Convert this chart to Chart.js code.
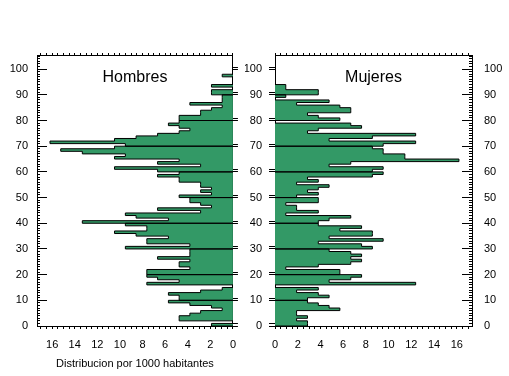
<!DOCTYPE html>
<html>
<head>
<meta charset="utf-8">
<script src="https://cdn.jsdelivr.net/npm/chart.js@4.4.1/dist/chart.umd.min.js"></script>
<style>
  body { margin: 0; background: #fff; }
  #wrap { position: relative; width: 509px; height: 376px; }
  .box { position: absolute; top: 0; height: 376px; }
</style>
</head>
<body>
<div id="wrap">
  <div class="box" style="left:0;width:245px"><canvas id="hombresChart"></canvas></div>
  <div class="box" style="left:245px;width:264px"><canvas id="mujeresChart"></canvas></div>
</div>
<script>
// valores por edad (0, 1, 2, ...), distribucion por 1000 habitantes
const hombres = [
  1.90, 0, 4.76, 4.76, 3.81, 2.86, 0.95, 1.90, 3.81, 5.71,
  4.76, 4.76, 5.71, 2.86, 0.95, 0, 7.62, 4.76, 6.67, 7.62,
  7.62, 7.62, 3.81, 4.76, 4.76, 3.81, 6.67, 3.81, 3.81, 3.81,
  9.52, 3.81, 7.62, 7.62, 5.71, 8.57, 10.48, 7.62, 7.62, 9.52,
  13.33, 5.71, 8.57, 9.52, 2.86, 6.67, 1.90, 2.86, 3.81, 3.81,
  4.76, 1.90, 2.86, 1.90, 2.86, 2.86, 4.76, 4.76, 6.67, 4.76,
  6.67, 10.48, 2.86, 6.67, 4.76, 10.48, 9.52, 13.33, 15.24, 10.48,
  9.52, 16.19, 10.48, 8.57, 6.67, 4.76, 3.81, 4.76, 5.71, 4.76,
  4.76, 4.76, 2.86, 2.86, 1.90, 0.95, 3.81, 0.95, 0.95, 0.95,
  1.90, 1.90, 0, 1.90, 0, 0, 0, 0.95
];
const mujeres = [
  2.86, 2.86, 1.90, 2.86, 1.90, 1.90, 5.71, 4.76, 3.81, 2.86,
  2.86, 4.76, 3.81, 1.90, 3.81, 0, 12.38, 4.76, 6.67, 7.62,
  5.71, 5.71, 0.95, 3.81, 6.67, 7.62, 6.67, 7.62, 6.67, 4.76,
  8.57, 7.62, 3.81, 9.52, 4.76, 8.57, 8.57, 5.71, 7.62, 3.81,
  3.81, 4.76, 6.67, 0.95, 3.81, 1.90, 1.90, 0.95, 3.81, 3.81,
  1.90, 3.81, 2.86, 3.81, 4.76, 1.90, 3.81, 2.86, 8.57, 9.52,
  8.57, 9.52, 4.76, 6.67, 16.19, 11.43, 11.43, 9.52, 9.52, 8.57,
  9.52, 12.38, 4.76, 8.57, 12.38, 2.86, 3.81, 7.62, 6.67, 0,
  5.71, 3.81, 2.86, 6.67, 6.67, 5.71, 1.90, 4.76, 0, 0.95,
  3.81, 3.81, 0.95, 0.95
];
const edadTicks = [0, 10, 20, 30, 40, 50, 60, 70, 80, 90, 100];
const distTicks = [0, 2, 4, 6, 8, 10, 12, 14, 16];
const xMax = 17.34;
const yMax = 105.5;
const verde = "rgb(51, 153, 102)";

Chart.defaults.font.family = "'Liberation Sans', Arial, sans-serif";
Chart.defaults.font.size = 11;
Chart.defaults.color = "#000";

// escalones: cada edad ocupa [edad, edad+1]; linea completa cada 10 anos
function stepPoints(values) {
  const pts = [{ x: 0, y: 0 }];
  values.forEach((v, edad) => {
    if (edad > 0 && edad % 10 === 0) pts.push({ x: 0, y: edad });
    pts.push({ x: v, y: edad });
  });
  pts.push({ x: 0, y: values.length });
  return pts;
}

const panelTitle = {
  id: "panelTitle",
  afterDraw(chart, args, opts) {
    const { ctx, chartArea } = chart;
    ctx.save();
    ctx.font = "16px 'Liberation Sans', Arial, sans-serif";
    ctx.fillStyle = "#000";
    ctx.textAlign = "center";
    ctx.fillText(opts.text, (chartArea.left + chartArea.right) / 2, chartArea.top + 27);
    ctx.restore();
  },
};

function xScale(reverse, position, withLabels) {
  const s = {
    type: "linear",
    position: position,
    reverse: reverse,
    min: 0,
    max: xMax,
    ticks: {
      display: withLabels,
      stepSize: 0.5,
      autoSkip: false,
      maxRotation: 0,
      includeBounds: false,
      padding: 9,
      callback: (v) => (distTicks.includes(v) ? v : ""),
    },
    grid: { drawOnChartArea: false, tickLength: position === "top" ? 2 : 3, color: "#000" },
    border: { color: "#000" },
    afterFit: (scale) => {
      scale.height = position === "top" ? 2 : 50;
    },
  };
  return s;
}

function yScale(position, weight, opts) {
  const s = {
    type: "linear",
    position: position,
    weight: weight,
    min: 0,
    max: yMax,
    ticks: {
      display: opts.labels,
      stepSize: opts.step,
      autoSkip: false,
      includeBounds: false,
      padding: opts.padding || 0,
      callback: (v) => (edadTicks.includes(v) ? v : ""),
    },
    grid: { drawOnChartArea: false, tickLength: opts.tick, color: "#000" },
    border: { display: opts.border, color: "#000" },
    afterFit: (scale) => {
      scale.width = opts.width;
    },
  };
  // marcas dobles en los ejes interiores
  if (opts.double) {
    s.afterBuildTicks = (scale) => {
      scale.ticks = edadTicks.flatMap((v) => [{ value: v }, { value: v + 0.8 }]);
    };
  }
  return s;
}

function createPanel(canvaId, values, title, scales) {
  const ctx = document.getElementById(canvaId).getContext("2d");
  return new Chart(ctx, {
    type: "line",
    data: {
      datasets: [
        {
          data: stepPoints(values),
          xAxisID: "x",
          yAxisID: "y",
          stepped: "after",
          fill: "origin",
          backgroundColor: verde,
          borderColor: "#000",
          borderWidth: 1,
          pointRadius: 0,
        },
      ],
    },
    options: {
      indexAxis: "y",
      animation: false,
      responsive: true,
      maintainAspectRatio: false,
      events: [],
      layout: { padding: { top: 53 } },
      scales: scales,
      plugins: {
        legend: { display: false },
        tooltip: { enabled: false },
        panelTitle: { text: title },
      },
    },
    plugins: [panelTitle],
  });
}

const xHombres = xScale(true, "bottom", true);
xHombres.title = {
  display: true,
  text: "Distribucion por 1000 habitantes",
  padding: { top: 0, bottom: 5 },
};

createPanel("hombresChart", hombres, "Hombres", {
  x: xHombres,
  xt: xScale(true, "top", false),
  y: yScale("left", 1, { labels: true, step: 10, tick: -10, padding: 19, width: 37, border: true }),
  ym: yScale("left", 0, { labels: false, step: 1, tick: -3, width: 0, border: false }),
  yr: yScale("right", 0, { labels: false, step: 10, tick: 5, width: 12, border: true, double: true }),
});

createPanel("mujeresChart", mujeres, "Mujeres", {
  x: xScale(false, "bottom", true),
  xt: xScale(false, "top", false),
  y: yScale("left", 0, { labels: true, step: 10, tick: 6, padding: 7, width: 30, border: true, double: true }),
  ym: yScale("right", 0, { labels: false, step: 1, tick: -3, width: 0, border: false }),
  yr: yScale("right", 1, { labels: true, step: 10, tick: -10, padding: 22, width: 37, border: true }),
});
</script>
</body>
</html>
